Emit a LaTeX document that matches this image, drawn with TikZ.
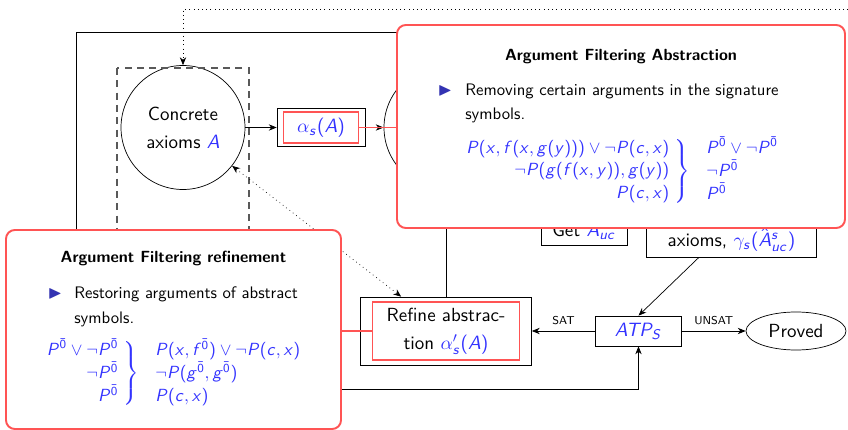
\documentclass[tikz,border=0pt]{standalone}
\usepackage{amsmath}
\usepackage{amssymb}
\usepackage{tikz}
\usetikzlibrary{positioning,fit,shapes.geometric,arrows.meta}

% sans serif letters and brackets in formulas
\DeclareSymbolFont{sfletters}{OT1}{cmss}{m}{sl}
\SetSymbolFont{operators}{normal}{OT1}{cmss}{m}{n}
\newcommand{\sfmathletter}[1]{\DeclareMathSymbol{#1}{\mathalpha}{sfletters}{`#1}}
\sfmathletter{A}\sfmathletter{P}\sfmathletter{T}\sfmathletter{S}
\sfmathletter{c}\sfmathletter{f}\sfmathletter{g}\sfmathletter{s}
\sfmathletter{u}\sfmathletter{x}\sfmathletter{y}

\definecolor{hlred}{rgb}{1,0.33,0.33}
\definecolor{structure}{rgb}{0.2,0.2,0.7}
\colorlet{mathblue}{blue!80}

\begin{document}
\begin{tikzpicture}[>={Stealth[length=4.5pt,width=3.6pt]},
    font=\sffamily\fontsize{10.8}{16}\selectfont,
    procbox/.style={draw, align=center},
    hlbox/.style={draw=hlred, line width=1.1pt, align=center},
    hlline/.style={hlred, line width=1.1pt},
    callout/.style={draw=hlred, line width=1.1pt, fill=white, rounded corners=5pt},
    calltitle/.style={font=\sffamily\bfseries\fontsize{9.2}{11}\selectfont},
    calltext/.style={font=\sffamily\fontsize{9.5}{13.7}\selectfont, inner sep=0pt},
    callmath/.style={font=\sffamily\fontsize{10}{13.7}\selectfont, inner sep=0pt, text=mathblue},
    bulletmark/.style={text=structure, font=\fontsize{10.5}{10.5}\selectfont, inner sep=0pt},
    lbl/.style={font=\sffamily\fontsize{6.5}{7}\selectfont},
    axioms/.style={circle, draw, minimum size=2.48cm, align=center},
    dashedframe/.style={black!65, line width=0.6pt, dash pattern=on 4pt off 3pt}]
  \useasboundingbox (0,0) rectangle (16.96,-8.6);

  % main loop
  \node[axioms] (concrete) at (3.66,-2.55) {Concrete\\axioms \textcolor{mathblue}{$A$}};
  \node[axioms] (abstract) at (8.92,-2.55) {};
  \node[hlbox, minimum width=1.5cm, minimum height=0.56cm, text=mathblue] (alphain) at (6.42,-2.55) {$\alpha_s(A)$};
  \node[procbox, fit=(alphain), inner xsep=0.11cm, inner ysep=0.045cm] (alpha) {};
  \draw[dashedframe] (2.34,-1.36) rectangle (4.98,-6.0);

  \node[hlbox, minimum width=2.94cm, minimum height=1.04cm] (refinein) at (8.92,-6.62) {Refine abstrac-\\tion \textcolor{mathblue}{$\alpha'_s(A)$}};
  \node[procbox, fit=(refinein), inner xsep=0.22cm, inner ysep=0.08cm] (refine) {};
  \node[procbox, minimum width=1.72cm, minimum height=0.6cm, text=mathblue] (atp) at (12.77,-6.62) {$ATP_S$};
  \node[ellipse, draw, minimum width=2.0cm, minimum height=0.76cm] (proved) at (15.92,-6.62) {Proved};
  \node[procbox, minimum width=1.72cm, text height=2.2em, text depth=0.2em, anchor=south] (getcore) at (11.68,-4.92) {Get \textcolor{mathblue}{$A_{uc}$}};
  \node[procbox, minimum width=3.4cm, text height=2.2em, anchor=south] (concbox) at (14.63,-5.146) {axioms, \textcolor{mathblue}{$\gamma_s(\hat{A}^s_{uc})$}};

  \draw[->] (concrete) -- (alpha);
  \draw[->] (alpha) -- (abstract);
  \draw (refine) -- (abstract);
  \draw[->] (abstract.north) |- (1.52,-0.64) -- (1.52,-7.78) -| (atp.south);
  \draw[->] ([xshift=-0.65cm]concbox.south) -- (atp.north);
  \draw[->] (atp) -- node[above, lbl] {SAT} (refine);
  \draw[->] (atp) -- node[above, lbl] {UNSAT} (proved);

  % dotted hints
  \coordinate (feedback) at (16.96,-0.186);
  \draw[dotted,->] (feedback) -| (concrete.north);
  \draw[dotted,<->] (concrete.-38) -- ([xshift=0.82cm]refine.north west);

  % abstraction callout
  \node[callout, minimum width=8.96cm, minimum height=4.06cm] (abscall) at (12.42,-2.53) {};
  \node[calltitle] (abstitle) at (12.42,-1.14) {Argument Filtering Abstraction};
  \node[bulletmark] (absbullet) at (8.9,-1.82) {$\blacktriangleright$};
  \node[calltext, anchor=base west, align=left] (abstext) at (9.3,-2.394) {Removing certain arguments in the signature\\symbols.};
  \node[callmath] (absmath) at (12.42,-3.43) {$\renewcommand{\arraystretch}{0.92}%
    \left.\begin{array}{@{}r@{\;}}
      P(x,f(x,g(y)))\vee\neg P(c,x)\\
      \neg P(g(f(x,y)),g(y))\\
      P(c,x)
    \end{array}\right\}\;
    \begin{array}{l@{}}
      P^{\bar 0}\vee\neg P^{\bar 0}\\
      \neg P^{\bar 0}\\
      P^{\bar 0}
    \end{array}$};
  \draw[hlline] (alphain.east) -- (alphain.east -| abscall.west);

  % refinement callout
  \node[callout, minimum width=6.7cm, minimum height=3.98cm] (refcall) at (3.47,-6.59) {};
  \node[calltitle] (reftitle) at (3.47,-5.16) {Argument Filtering refinement};
  \node[bulletmark] (refbullet) at (1.1,-5.88) {$\blacktriangleright$};
  \node[calltext, anchor=base west, align=left] (reftext) at (1.48,-6.46) {Restoring arguments of abstract\\symbols.};
  \node[callmath] (refmath) at (3.45,-7.47) {$\renewcommand{\arraystretch}{0.92}%
    \left.\begin{array}{@{}r@{\;}}
      P^{\bar 0}\vee\neg P^{\bar 0}\\
      \neg P^{\bar 0}\\
      P^{\bar 0}
    \end{array}\right\}\;
    \begin{array}{l@{}}
      P(x,f^{\bar 0})\vee\neg P(c,x)\\
      \neg P(g^{\bar 0},g^{\bar 0})\\
      P(c,x)
    \end{array}$};
  \draw[hlline] (refinein.west) -- (refinein.west -| refcall.east);
\end{tikzpicture}
\end{document}
